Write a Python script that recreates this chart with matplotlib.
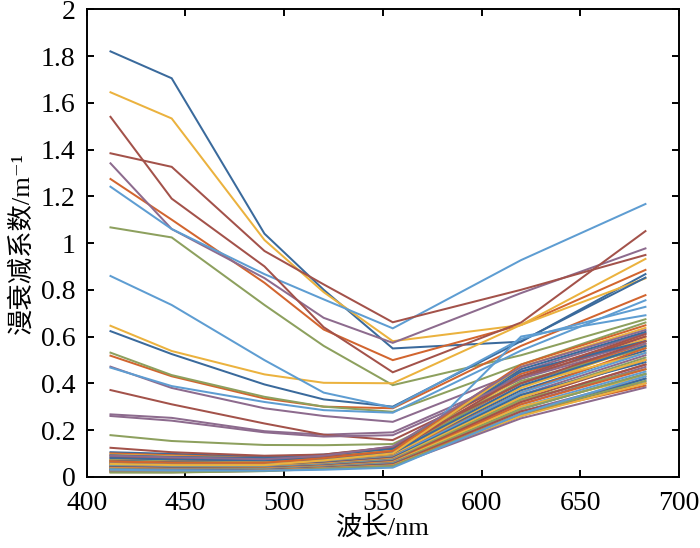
import matplotlib
matplotlib.use("Agg")
import matplotlib.pyplot as plt
from matplotlib.ticker import FixedLocator, FixedFormatter

# ---------------- data ----------------
wavelength = [412, 443, 490, 520, 555, 620, 683]

kd_turbid = [
    [1.820, 1.705, 1.040, 0.800, 0.549, 0.578, 0.867],
    [1.274, 1.100, 0.830, 0.630, 0.499, 0.650, 0.885],
    [1.645, 1.533, 1.013, 0.790, 0.580, 0.649, 0.849],
    [1.341, 1.060, 0.850, 0.680, 0.573, 0.786, 0.977],
    [1.067, 1.024, 0.735, 0.560, 0.392, 0.520, 0.674],
    [1.241, 1.060, 0.867, 0.759, 0.635, 0.927, 1.167],
    [1.540, 1.190, 0.900, 0.640, 0.447, 0.660, 1.051],
    [0.623, 0.525, 0.395, 0.331, 0.300, 0.580, 0.852],
    [0.518, 0.430, 0.335, 0.300, 0.293, 0.560, 0.777],
    [0.646, 0.538, 0.438, 0.402, 0.400, 0.650, 0.932],
    [0.471, 0.380, 0.293, 0.260, 0.235, 0.450, 0.614],
    [0.531, 0.435, 0.342, 0.300, 0.278, 0.480, 0.660],
    [0.467, 0.388, 0.320, 0.285, 0.274, 0.540, 0.755],
    [1.384, 1.326, 0.966, 0.823, 0.661, 0.800, 0.949],
]

kd_moderate = [
    [0.105, 0.098, 0.085, 0.095, 0.125, 0.460, 0.620],
    [0.100, 0.092, 0.080, 0.090, 0.118, 0.440, 0.600],
    [0.095, 0.088, 0.078, 0.088, 0.112, 0.420, 0.590],
    [0.267, 0.252, 0.195, 0.180, 0.190, 0.430, 0.580],
    [0.178, 0.153, 0.136, 0.135, 0.140, 0.400, 0.560],
    [0.859, 0.735, 0.499, 0.360, 0.296, 0.590, 0.727],
    [0.371, 0.310, 0.228, 0.180, 0.157, 0.420, 0.600],
    [0.092, 0.085, 0.080, 0.092, 0.120, 0.450, 0.580],
    [0.075, 0.070, 0.068, 0.082, 0.110, 0.400, 0.570],
    [0.072, 0.066, 0.062, 0.075, 0.100, 0.380, 0.560],
    [0.260, 0.240, 0.190, 0.172, 0.178, 0.420, 0.570],
    [0.070, 0.064, 0.060, 0.072, 0.098, 0.410, 0.550],
    [0.045, 0.040, 0.040, 0.042, 0.050, 0.600, 0.691],
    [0.124, 0.105, 0.090, 0.095, 0.128, 0.400, 0.580],
]

kd_clear = [
    [0.068, 0.062, 0.058, 0.070, 0.095, 0.370, 0.540],
    [0.066, 0.060, 0.057, 0.068, 0.092, 0.360, 0.550],
    [0.064, 0.058, 0.055, 0.066, 0.090, 0.390, 0.530],
    [0.062, 0.056, 0.053, 0.064, 0.088, 0.350, 0.520],
    [0.060, 0.054, 0.052, 0.063, 0.086, 0.340, 0.510],
    [0.058, 0.052, 0.050, 0.061, 0.084, 0.360, 0.530],
    [0.056, 0.050, 0.048, 0.060, 0.082, 0.330, 0.500],
    [0.054, 0.049, 0.047, 0.058, 0.080, 0.350, 0.490],
    [0.052, 0.047, 0.045, 0.056, 0.078, 0.320, 0.480],
    [0.050, 0.045, 0.044, 0.055, 0.076, 0.340, 0.500],
    [0.048, 0.044, 0.042, 0.053, 0.074, 0.310, 0.470],
    [0.046, 0.042, 0.041, 0.052, 0.072, 0.330, 0.460],
    [0.044, 0.040, 0.040, 0.050, 0.070, 0.300, 0.450],
    [0.042, 0.038, 0.038, 0.048, 0.068, 0.320, 0.480],
    [0.040, 0.037, 0.037, 0.047, 0.066, 0.290, 0.440],
    [0.038, 0.035, 0.036, 0.046, 0.064, 0.310, 0.460],
    [0.036, 0.033, 0.034, 0.044, 0.062, 0.300, 0.430],
    [0.034, 0.032, 0.033, 0.043, 0.060, 0.280, 0.420],
    [0.032, 0.030, 0.032, 0.042, 0.058, 0.290, 0.440],
    [0.030, 0.028, 0.030, 0.040, 0.056, 0.270, 0.410],
    [0.028, 0.026, 0.029, 0.039, 0.054, 0.280, 0.400],
    [0.026, 0.025, 0.028, 0.038, 0.052, 0.260, 0.420],
    [0.024, 0.023, 0.027, 0.037, 0.050, 0.270, 0.390],
    [0.022, 0.021, 0.026, 0.036, 0.048, 0.260, 0.400],
    [0.020, 0.019, 0.025, 0.035, 0.046, 0.250, 0.382],
    [0.018, 0.018, 0.024, 0.034, 0.045, 0.270, 0.410],
    [0.030, 0.027, 0.026, 0.030, 0.039, 0.270, 0.430],
    [0.085, 0.078, 0.072, 0.085, 0.105, 0.430, 0.610],
    [0.080, 0.074, 0.070, 0.080, 0.102, 0.390, 0.560],
    [0.065, 0.060, 0.060, 0.080, 0.110, 0.480, 0.648],
    [0.055, 0.050, 0.050, 0.070, 0.100, 0.470, 0.637],
    [0.090, 0.083, 0.075, 0.090, 0.130, 0.470, 0.628],
]

x_ticks = [400, 450, 500, 550, 600, 650, 700]
y_ticks = [0, 0.2, 0.4, 0.6, 0.8, 1.0, 1.2, 1.4, 1.6, 1.8, 2.0]
y_tick_labels = ["0", "0.2", "0.4", "0.6", "0.8", "1", "1.2", "1.4", "1.6", "1.8", "2"]

# ---------------- style ----------------
palette = ["#3a6a9c", "#d2652f", "#ebb23e", "#8d6b8e", "#8da05e", "#5e9dd2", "#a3524a"]

fig = plt.figure(figsize=(7.0, 5.48), dpi=100)
ax = fig.add_axes([0.124, 0.130, 0.846, 0.853])

all_series = kd_turbid + kd_moderate + kd_clear
for i, row in enumerate(all_series):
    ax.plot(wavelength, row, color=palette[i % len(palette)], lw=1.45,
            solid_joinstyle="miter")

ax.set_xlim(400, 700)
ax.set_ylim(0, 2)
ax.xaxis.set_major_locator(FixedLocator(x_ticks))
ax.yaxis.set_major_locator(FixedLocator(y_ticks))
ax.yaxis.set_major_formatter(FixedFormatter(y_tick_labels))

for s in ax.spines.values():
    s.set_linewidth(1.4)
ax.tick_params(direction="in", length=5, width=1.4, top=True, right=True,
               labelsize=20)
ax.tick_params(axis="x", pad=10)
ax.tick_params(axis="y", pad=8)
for lab in ax.get_xticklabels() + ax.get_yticklabels():
    lab.set_fontfamily("Liberation Serif")

cjk = ["Liberation Serif", "Noto Sans CJK SC", "DejaVu Serif"]
ax.set_xlabel("波长/nm", fontsize=19, family=cjk, labelpad=0)
ax.set_ylabel("漫衰减系数/m\u207b\u00b9", fontsize=19, family=cjk, labelpad=5)

fig.savefig("out.png", dpi=100)
